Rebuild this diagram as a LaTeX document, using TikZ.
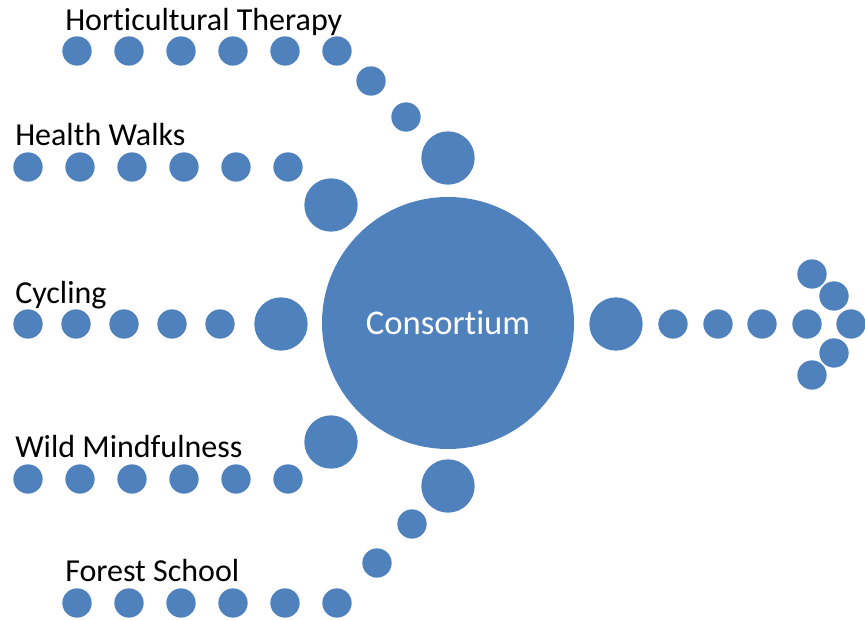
\documentclass[tikz,border=0pt]{standalone}
\usepackage{fontspec}
\setmainfont[Ligatures={NoCommon,NoContextual},Contextuals=NoAlternate]{Carlito}
\definecolor{dotblue}{HTML}{4F81BD}
\begin{document}
\begin{tikzpicture}[x=0.75pt,y=-0.75pt,
  dot/.style={circle,fill=dotblue,inner sep=0pt,minimum size=22pt},
  bigdot/.style={circle,fill=dotblue,inner sep=0pt,minimum size=40pt},
  hub/.style={circle,fill=dotblue,inner sep=0pt,minimum size=189pt,
    text=white,font=\fontsize{26}{30}\selectfont},
  label/.style={anchor=base west,inner sep=0pt,font=\fontsize{24}{28}\selectfont}]
\useasboundingbox (0,0) rectangle (865,620);

% central hub
\node[hub] (hub) at (448,323) {Consortium};

% Horticultural Therapy
\node[label] (lblHT) at (65,31) {Horticultural Therapy};
\foreach \x [count=\i] in {77,129,181,233,285,337}
  \node[dot] (ht\i) at (\x,51) {};
\node[dot] (ht7) at (371,81) {};
\node[dot] (ht8) at (406,117) {};
\node[bigdot] (htb) at (448,158) {};

% Health Walks
\node[label] (lblHW) at (15,146) {Health Walks};
\foreach \x [count=\i] in {28,80,132,184,236,288}
  \node[dot] (hw\i) at (\x,167) {};
\node[bigdot] (hwb) at (331,205) {};

% Cycling
\node[label] (lblCY) at (15,304) {Cycling};
\foreach \x [count=\i] in {28,76,124,172,220}
  \node[dot] (cy\i) at (\x,324) {};
\node[bigdot] (cyb) at (281,324) {};

% Wild Mindfulness
\node[label] (lblWM) at (15,458) {Wild Mindfulness};
\foreach \x [count=\i] in {28,80,132,184,236,288}
  \node[dot] (wm\i) at (\x,479) {};
\node[bigdot] (wmb) at (331,442) {};

% Forest School
\node[label] (lblFS) at (65,581) {Forest School};
\foreach \x [count=\i] in {77,129,181,233,285,337}
  \node[dot] (fs\i) at (\x,603) {};
\node[dot] (fs7) at (377,563) {};
\node[dot] (fs8) at (412,524) {};
\node[bigdot] (fsb) at (448,486) {};

% outgoing arrow of dots
\node[bigdot] (outb) at (616,324) {};
\foreach \x [count=\i] in {673,718,762,807,851}
  \node[dot] (out\i) at (\x,324) {};
\node[dot] (tipA) at (812,274) {};
\node[dot] (tipB) at (834,296) {};
\node[dot] (tipC) at (834,353) {};
\node[dot] (tipD) at (812,375) {};
\end{tikzpicture}
\end{document}
